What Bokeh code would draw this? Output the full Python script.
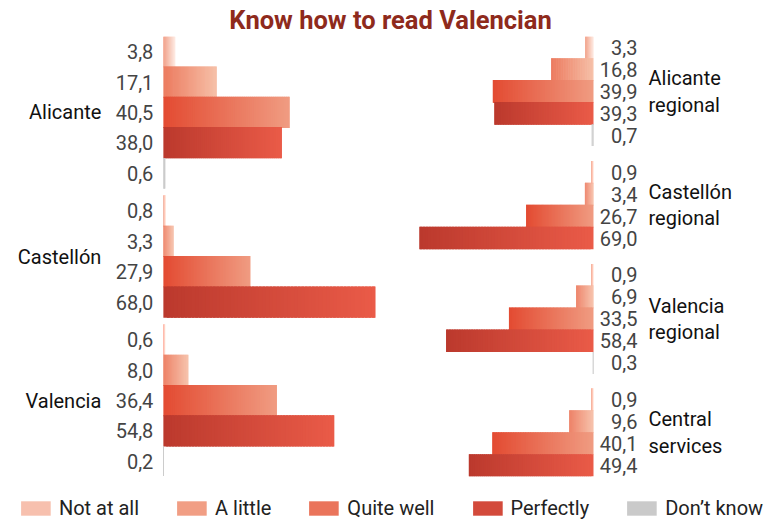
from bokeh.plotting import figure
from bokeh.models import (FactorRange, Range1d, ColumnDataSource, Legend,
                          LegendItem)
from bokeh.core.properties import value
from bokeh.embed import file_html
from bokeh.resources import INLINE

# ---------------- data ----------------
levels = ["Not at all", "A little", "Quite well", "Perfectly", "Don\u2019t know"]

left_groups = ["Alicante", "Castellón", "Valencia"]
left_alicante = [3.8, 17.1, 40.5, 38.0, 0.6]
left_castellon = [0.8, 3.3, 27.9, 68.0]
left_valencia = [0.6, 8.0, 36.4, 54.8, 0.2]

right_groups = ["Alicante regional", "Castellón regional",
                "Valencia regional", "Central services"]
right_group_labels = ["Alicante\nregional", "Castellón\nregional",
                      "Valencia\nregional", "Central\nservices"]
right_alicante = [3.3, 16.8, 39.9, 39.3, 0.7]
right_castellon = [0.9, 3.4, 26.7, 69.0]
right_valencia = [0.9, 6.9, 33.5, 58.4, 0.3]
right_central = [0.9, 9.6, 40.1, 49.4]

left_series = [left_alicante, left_castellon, left_valencia]
right_series = [right_alicante, right_castellon, right_valencia, right_central]

# ---------------- styles ----------------
grads = {
    "Not at all": ("#F0957B", "#FDE9E0"),
    "A little": ("#EC7A5E", "#F6C0A8"),
    "Quite well": ("#E34B32", "#F09C82"),
    "Perfectly": ("#BB392D", "#EA5B48"),
    "Don\u2019t know": ("#CACACA", "#CACACA"),
}
NSLICE = 60
FONT = "Roboto"


def hex2rgb(h):
    h = h.lstrip("#")
    return [int(h[i:i + 2], 16) for i in (0, 2, 4)]


def mix(c0, c1, t):
    a, b = hex2rgb(c0), hex2rgb(c1)
    return "#%02x%02x%02x" % tuple(int(round(a[k] + (b[k] - a[k]) * t)) for k in range(3))


def fmt(v):
    return ("%.1f" % v).replace(".", ",")


def slices(groups, series, lvl_idx, dark_at_end):
    d = dict(y=[], left=[], right=[], color=[])
    lvl = levels[lvl_idx]
    c0, c1 = grads[lvl]
    for g, vals in zip(groups, series):
        if lvl_idx >= len(vals):
            continue
        v = vals[lvl_idx]
        for i in range(NSLICE):
            t = (i + 0.5) / NSLICE
            if dark_at_end:
                t = 1 - t
            d["y"].append((g, lvl))
            d["left"].append(v * i / NSLICE)
            d["right"].append(v * min(i + 1.8, NSLICE) / NSLICE)
            d["color"].append(mix(c0, c1, t))
    return d


def factors(groups, series):
    f = []
    for g, vals in zip(groups, series):
        for k in range(len(vals)):
            f.append((g, levels[k]))
    return f


left_factors = factors(left_groups, left_series)
right_factors = factors(right_groups, right_series)

p = figure(frame_width=780, frame_height=440, output_backend="svg",
           toolbar_location=None,
           x_range=Range1d(-52.2, 197.8),
           y_range=FactorRange(factors=left_factors[::-1], group_padding=0.25,
                               range_padding=0),
           x_axis_location=None, y_axis_location=None,
           min_border_left=0, min_border_right=0, min_border_top=0,
           min_border_bottom=0)
p.extra_x_ranges = {"xr": Range1d(234.85, -74.06)}
p.extra_y_ranges = {"yr": FactorRange(factors=right_factors[::-1],
                                      group_padding=0.68, range_padding=0)}
p.outline_line_color = None
p.xgrid.grid_line_color = None
p.ygrid.grid_line_color = None
p.background_fill_color = "white"
p.border_fill_color = "white"

p.title.text = "Know how to read Valencian"
p.title.align = "center"
p.title.text_font = FONT
p.title.text_font_style = "bold"
p.title.text_font_size = "25.5px"
p.title.text_color = "#8E2A1C"
p.title.standoff = 4

legend_renderers = []
for li, lvl in enumerate(levels):
    srcL = ColumnDataSource(slices(left_groups, left_series, li, False))
    rL = p.hbar(y="y", left="left", right="right", height=1.03, source=srcL,
                fill_color="color", line_color=None)
    srcR = ColumnDataSource(slices(right_groups, right_series, li, True))
    p.hbar(y="y", left="left", right="right", height=1.03, source=srcR,
           fill_color="color", line_color=None,
           x_range_name="xr", y_range_name="yr")
    legend_renderers.append(rL)

# value labels
lv = dict(y=[], t=[], x=[])
for g, vals in zip(left_groups, left_series):
    for k, v in enumerate(vals):
        lv["y"].append((g, levels[k]))
        lv["t"].append(fmt(v))
        lv["x"].append(0)
p.text(x="x", y="y", text="t", source=ColumnDataSource(lv), x_offset=-10,
       text_align="right", text_baseline="middle", text_font=value(FONT),
       text_font_size="20px", text_color="#444444")

rv = dict(y=[], t=[], x=[])
for g, vals in zip(right_groups, right_series):
    for k, v in enumerate(vals):
        rv["y"].append((g, levels[k]))
        rv["t"].append(fmt(v))
        rv["x"].append(0)
p.text(x="x", y="y", text="t", source=ColumnDataSource(rv), x_offset=44,
       text_align="right", text_baseline="middle", text_font=value(FONT),
       text_font_size="20px", text_color="#444444",
       x_range_name="xr", y_range_name="yr")

# group labels
p.text(x=[0] * len(left_groups), y=left_groups, text=left_groups, x_offset=-62,
       text_align="right", text_baseline="middle", text_font=value(FONT),
       text_font_size="20px", text_color="#111111")
p.text(x=[0] * len(right_groups), y=right_groups, text=right_group_labels,
       x_offset=55, text_align="left", text_baseline="middle",
       text_font=value(FONT), text_font_size="20px", text_color="#111111",
       text_line_height=1.1, x_range_name="xr", y_range_name="yr")

items = [LegendItem(label=lvl, renderers=[r], index=NSLICE // 2)
         for lvl, r in zip(levels, legend_renderers)]
legend = Legend(items=items, orientation="horizontal", location="top_center",
                glyph_width=37, glyph_height=18, label_standoff=5, spacing=34,
                padding=0, margin=0, border_line_color=None,
                background_fill_alpha=0, label_text_font=FONT,
                label_text_font_size="20px", label_text_color="#222222",
                title=" ", title_text_font_size="2px", title_standoff=18)
p.add_layout(legend, "below")

open("out.html", "w").write(file_html(p, INLINE))
